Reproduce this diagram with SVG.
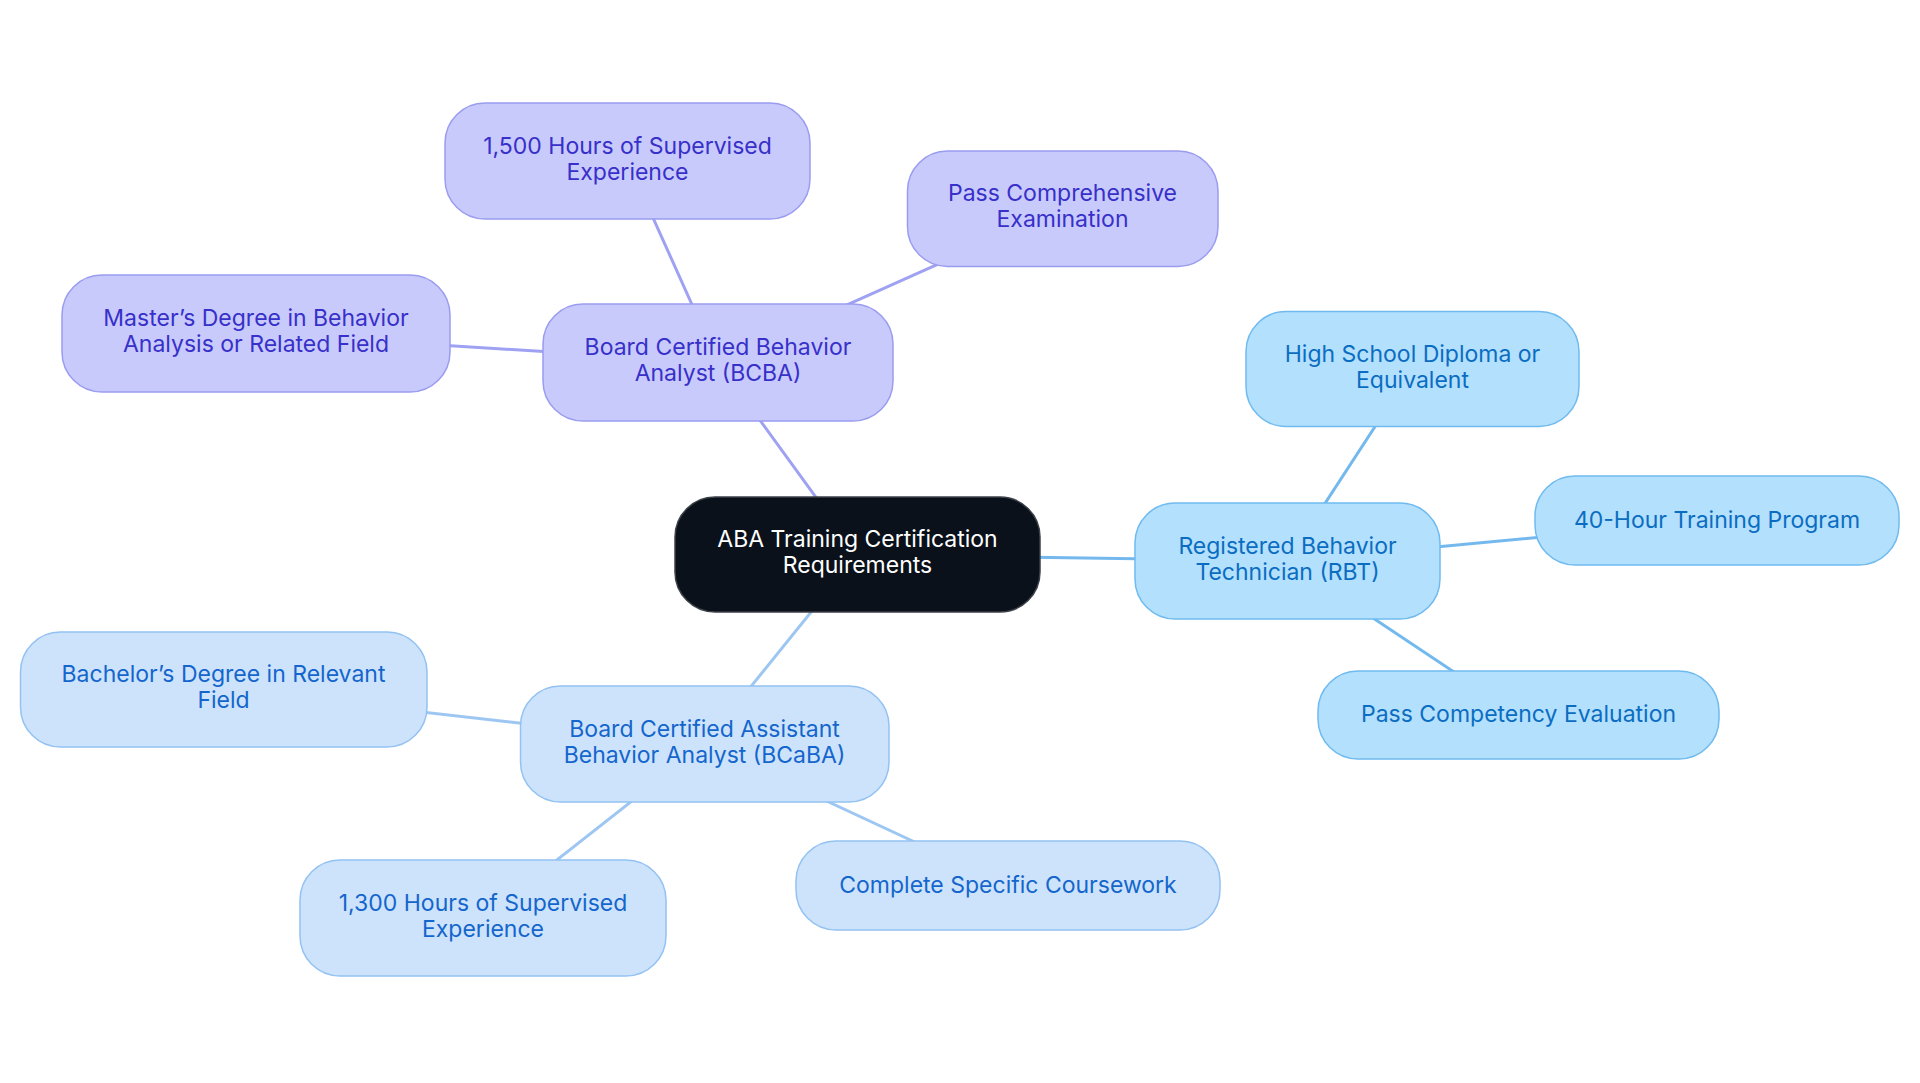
<svg xmlns="http://www.w3.org/2000/svg" width="1920" height="1083" viewBox="0 0 1920 1083">
<style>
text{font-family:Inter,"Noto Sans","Liberation Sans",sans-serif;font-size:23px;text-anchor:middle}
.edge{stroke-width:3;fill:none;stroke-linecap:round}
.ep{stroke:#9FA1F2}.er{stroke:#74B9EE}.ea{stroke:#9DC7F2}
.p rect{fill:#C9CAFC;stroke:#9A9CF0;stroke-width:1.5}.p text{fill:#3730C9}
.r rect{fill:#B3E0FD;stroke:#6FBAEF;stroke-width:1.5}.r text{fill:#0B6DC1}
.a rect{fill:#CDE3FB;stroke:#93C2F2;stroke-width:1.5}.a text{fill:#1466CC}
.c rect{fill:#0B111A;stroke:#3C4048;stroke-width:1.5}.c text{fill:#FFFFFF}
</style>
<rect width="1920" height="1083" fill="#FFFFFF"/>
<g id="connectors">
<line class="edge ep" x1="857.5" y1="554.5" x2="718" y2="362.5"/>
<line class="edge ep" x1="718" y1="362.5" x2="627.5" y2="161"/>
<line class="edge ep" x1="718" y1="362.5" x2="1062.5" y2="208.5"/>
<line class="edge ep" x1="718" y1="362.5" x2="256" y2="333.5"/>
<line class="edge er" x1="857.5" y1="554.5" x2="1287.5" y2="561"/>
<line class="edge er" x1="1287.5" y1="561" x2="1412.5" y2="369"/>
<line class="edge er" x1="1287.5" y1="561" x2="1717" y2="520.5"/>
<line class="edge er" x1="1287.5" y1="561" x2="1518.5" y2="715"/>
<line class="edge ea" x1="857.5" y1="554.5" x2="704.5" y2="744"/>
<line class="edge ea" x1="704.5" y1="744" x2="223.5" y2="689.5"/>
<line class="edge ea" x1="704.5" y1="744" x2="483" y2="918"/>
<line class="edge ea" x1="704.5" y1="744" x2="1008" y2="885.5"/>
</g>
<g id="center" class="c"><rect x="675" y="497" width="365" height="115" rx="40"/><text x="857.5" y="547">ABA Training Certification</text><text x="857.5" y="573">Requirements</text></g>
<g id="bcba" class="p"><rect x="543" y="304" width="350" height="117" rx="40"/><text x="718" y="355">Board Certified Behavior</text><text x="718" y="381">Analyst (BCBA)</text></g>
<g id="bcba-hours" class="p"><rect x="445" y="103" width="365" height="116" rx="40"/><text x="627.5" y="154">1,500 Hours of Supervised</text><text x="627.5" y="180">Experience</text></g>
<g id="bcba-exam" class="p"><rect x="907.5" y="151" width="310.5" height="115.5" rx="40"/><text x="1062.5" y="201">Pass Comprehensive</text><text x="1062.5" y="227">Examination</text></g>
<g id="bcba-degree" class="p"><rect x="62" y="275" width="388" height="117" rx="40"/><text x="256" y="326">Master’s Degree in Behavior</text><text x="256" y="352">Analysis or Related Field</text></g>
<g id="rbt" class="r"><rect x="1135" y="503" width="305" height="116" rx="40"/><text x="1287.5" y="554">Registered Behavior</text><text x="1287.5" y="580">Technician (RBT)</text></g>
<g id="rbt-diploma" class="r"><rect x="1246" y="311.5" width="333" height="115" rx="40"/><text x="1412.5" y="361.5">High School Diploma or</text><text x="1412.5" y="387.5">Equivalent</text></g>
<g id="rbt-training" class="r"><rect x="1535" y="476" width="364" height="89" rx="40"/><text x="1717" y="527.5">40-Hour Training Program</text></g>
<g id="rbt-eval" class="r"><rect x="1318" y="671" width="401" height="88" rx="40"/><text x="1518.5" y="722">Pass Competency Evaluation</text></g>
<g id="bcaba" class="a"><rect x="520.5" y="686" width="368.5" height="116" rx="40"/><text x="704.5" y="737">Board Certified Assistant</text><text x="704.5" y="763">Behavior Analyst (BCaBA)</text></g>
<g id="bcaba-degree" class="a"><rect x="20.5" y="632" width="406.5" height="115" rx="40"/><text x="223.5" y="682">Bachelor’s Degree in Relevant</text><text x="223.5" y="708">Field</text></g>
<g id="bcaba-hours" class="a"><rect x="300" y="860" width="366" height="116" rx="40"/><text x="483" y="911">1,300 Hours of Supervised</text><text x="483" y="937">Experience</text></g>
<g id="bcaba-course" class="a"><rect x="796" y="841" width="424" height="89" rx="40"/><text x="1008" y="892.5">Complete Specific Coursework</text></g>
</svg>
